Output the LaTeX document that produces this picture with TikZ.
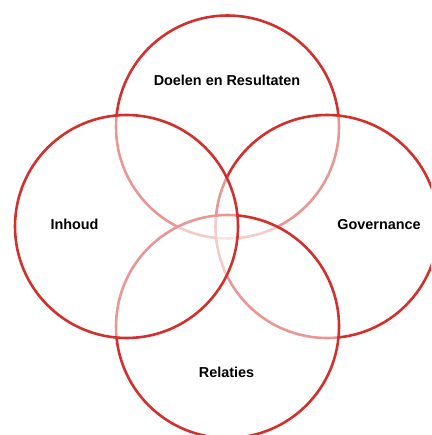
\documentclass[tikz,border=0pt]{standalone}
\usepackage{fontspec}
\setmainfont{Liberation Sans}
\definecolor{ringred}{RGB}{210,48,44}
\begin{document}
\begin{tikzpicture}[x=1pt,y=-1pt,
  ring/.style={circle,draw=ringred,line width=2.6pt,fill=white,fill opacity=0.5,
    draw opacity=1,minimum size=223pt,inner sep=0pt},
  lbl/.style={anchor=base,font=\fontsize{14.4}{16}\selectfont\bfseries,text=black,inner sep=0pt}]
\useasboundingbox (0,0) rectangle (431,435);
\fill[white] (0,0) rectangle (431,435);
\clip (0,0) rectangle (431,435);
% drawing order: top, right, bottom, left
\node[ring] (doelen) at (227.5,127) {};
\node[ring] (gov) at (327,226.5) {};
\node[ring] (rel) at (227.5,326.5) {};
\node[ring] (inh) at (126.5,226.5) {};
\node[lbl] (tdoelen) at (227,86) {Doelen en Resultaten};
\node[lbl] (tinh) at (74.5,229.5) {Inhoud};
\node[lbl] (tgov) at (379,229.5) {Governance};
\node[lbl] (trel) at (226.5,377.5) {Relaties};
\end{tikzpicture}
\end{document}
